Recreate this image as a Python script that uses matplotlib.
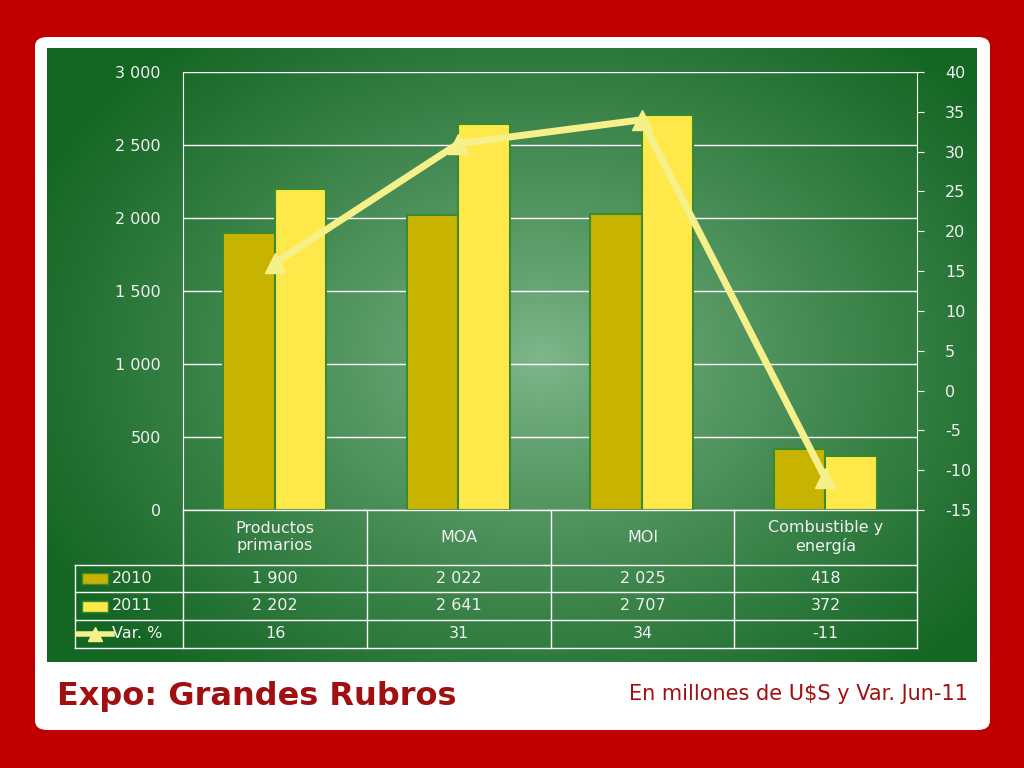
import matplotlib
matplotlib.use("Agg")
import matplotlib.pyplot as plt
import numpy as np
from matplotlib.patches import FancyBboxPatch, Rectangle
from matplotlib.lines import Line2D

plt.rcParams["axes.unicode_minus"] = False

categories = ["Productos\nprimarios", "MOA", "MOI", "Combustible y\nenergía"]
v2010 = [1900, 2022, 2025, 418]
v2011 = [2202, 2641, 2707, 372]
var = [16, 31, 34, -11]
lbl2010 = ["1 900", "2 022", "2 025", "418"]
lbl2011 = ["2 202", "2 641", "2 707", "372"]
lblvar = ["16", "31", "34", "-11"]
left_ticks = [0, 500, 1000, 1500, 2000, 2500, 3000]
right_ticks = list(range(-15, 41, 5))

W, H = 1024, 768
fig = plt.figure(figsize=(10.24, 7.68), dpi=100)
fig.patch.set_facecolor("#c00000")

def fx(x): return x / W
def fy(y): return 1 - y / H

fig.add_artist(FancyBboxPatch((fx(35), fy(730)), fx(955), 693 / H,
               boxstyle="round,pad=0,rounding_size=0.012", transform=fig.transFigure,
               facecolor="white", edgecolor="none", zorder=-10))
bg = fig.add_axes([fx(47), fy(662), fx(930), 614 / H], zorder=-5)
yy, xx = np.mgrid[0:614, 0:930]
r = np.sqrt(((xx - 493) / 560) ** 2 + ((yy - 310) / 420) ** 2)
r = np.clip(r, 0, 1) ** 0.85
c0 = np.array([0.50, 0.72, 0.55]); c1 = np.array([0.08, 0.40, 0.14])
img = c0[None, None, :] * (1 - r[..., None]) + c1[None, None, :] * r[..., None]
bg.imshow(img, aspect="auto", extent=[0, 930, 614, 0])
bg.axis("off")

txtc = "#f0f0f0"
ax = fig.add_axes([fx(183), fy(510), fx(734), 438 / H])
ax.patch.set_alpha(0)
x = np.arange(4)
ax.bar(x - 0.14, v2010, 0.28, color="#c8b400", edgecolor="#3a8a30", linewidth=1.5, zorder=3)
ax.bar(x + 0.14, v2011, 0.28, color="#ffe84a", edgecolor="#3a8a30", linewidth=1.5, zorder=3)
ax.set_xlim(-0.5, 3.5)
ax.set_ylim(0, 3000)
ax.set_yticks(left_ticks)
ax.set_yticklabels([f"{t:,}".replace(",", " ") for t in left_ticks])
ax.yaxis.grid(True, color="white", linewidth=1, zorder=0)
ax.set_axisbelow(True)
ax.set_xticks([])
for s in ax.spines.values():
    s.set_visible(False)
ax.spines["left"].set_visible(True); ax.spines["left"].set_color("white")
ax.tick_params(axis="y", colors=txtc, labelsize=11.5, length=0, pad=16)
ax2 = ax.twinx()
ax2.plot(x, var, color="#f5f08a", linewidth=5, marker="^", markersize=14, zorder=5)
ax2.set_ylim(-15, 40)
ax2.set_yticks(right_ticks)
for s in ax2.spines.values():
    s.set_visible(False)
ax2.spines["right"].set_visible(True); ax2.spines["right"].set_color("white")
ax2.tick_params(axis="y", colors=txtc, labelsize=11.5, length=5, color="white", pad=15)

cols = [75, 183, 367, 551, 734, 917]
rows = [510, 565, 592, 620, 648]
lc = "white"
def hl(x0, x1, y): fig.add_artist(Line2D([fx(x0), fx(x1)], [fy(y), fy(y)], color=lc, lw=1))
def vl(x, y0, y1): fig.add_artist(Line2D([fx(x), fx(x)], [fy(y0), fy(y1)], color=lc, lw=1))
hl(183, 917, 510)
for y in rows[1:]:
    hl(75, 917, y)
vl(75, 565, 648)
for c in cols[1:]:
    vl(c, 510, 648)
for i, cat in enumerate(categories):
    cx = (cols[i + 1] + cols[i + 2]) / 2
    fig.text(fx(cx), fy(537), cat, ha="center", va="center", color=txtc, fontsize=11.5, linespacing=1.2)
    for j, lab in enumerate([lbl2010, lbl2011, lblvar]):
        fig.text(fx(cx), fy((rows[j + 1] + rows[j + 2]) / 2), lab[i], ha="center", va="center",
                 color=txtc, fontsize=11.5)
fig.add_artist(Rectangle((fx(82), fy(584)), fx(26), 11 / H, transform=fig.transFigure, facecolor="#c8b400", edgecolor="#3a8a30"))
fig.add_artist(Rectangle((fx(82), fy(612)), fx(26), 11 / H, transform=fig.transFigure, facecolor="#ffe84a", edgecolor="#3a8a30"))
fig.add_artist(Line2D([fx(78), fx(112)], [fy(634), fy(634)], color="#f5f08a", lw=4))
fig.add_artist(Line2D([fx(95)], [fy(634)], color="#f5f08a", marker="^", markersize=10))
fig.text(fx(112), fy(578.5), "2010", va="center", color=txtc, fontsize=11.5)
fig.text(fx(112), fy(606), "2011", va="center", color=txtc, fontsize=11.5)
fig.text(fx(112), fy(634), "Var. %", va="center", color=txtc, fontsize=11.5)

fig.text(fx(57), fy(696), "Expo: Grandes Rubros", color="#a01010", fontsize=23, fontweight="bold", va="center")
fig.text(fx(968), fy(694), "En millones de U$S y Var. Jun-11", color="#a01010", fontsize=15, va="center", ha="right")
fig.savefig("out.png", dpi=100, facecolor=fig.get_facecolor())
